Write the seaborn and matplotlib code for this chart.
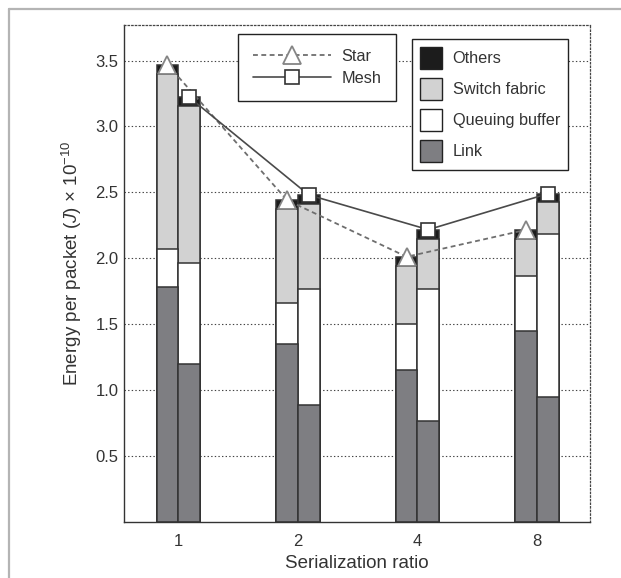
import matplotlib
matplotlib.use("Agg")
import numpy as np
import pandas as pd
import matplotlib.pyplot as plt
import seaborn as sns
from matplotlib.lines import Line2D
from matplotlib.patches import Patch

# ---------------- data ----------------
ratios = ["1", "2", "4", "8"]
topologies = ["Star", "Mesh"]
components = ["Others", "Switch fabric", "Queuing buffer", "Link"]

star_link = [1.78, 1.35, 1.15, 1.445]
star_queue = [0.29, 0.31, 0.35, 0.42]
star_switch = [1.33, 0.71, 0.44, 0.28]
star_others = [0.07, 0.07, 0.07, 0.07]

mesh_link = [1.195, 0.888, 0.766, 0.949]
mesh_queue = [0.767, 0.879, 0.998, 1.236]
mesh_switch = [1.19, 0.643, 0.382, 0.238]
mesh_others = [0.07, 0.07, 0.07, 0.066]

y_ticks = [0.5, 1.0, 1.5, 2.0, 2.5, 3.0, 3.5]

# ---------------- style ----------------
sns.set_style("white")
plt.rcParams["font.family"] = ["Liberation Sans", "DejaVu Sans"]
plt.rcParams["mathtext.fontset"] = "custom"
plt.rcParams["mathtext.rm"] = "Liberation Sans"
plt.rcParams["mathtext.it"] = "Liberation Sans:italic"
plt.rcParams["lines.scale_dashes"] = False

comp_colors = {
    "Others": "#1c1c1c",
    "Switch fabric": "#d2d2d2",
    "Queuing buffer": "#ffffff",
    "Link": "#7e7e82",
}
edge = "#333333"

rows = []
for i, r in enumerate(ratios):
    rows.append(dict(ratio=r, topology="Star", Link=star_link[i], Queue=star_queue[i],
                     Switch=star_switch[i], Others=star_others[i]))
    rows.append(dict(ratio=r, topology="Mesh", Link=mesh_link[i], Queue=mesh_queue[i],
                     Switch=mesh_switch[i], Others=mesh_others[i]))
df = pd.DataFrame(rows)
df["c1"] = df["Link"]
df["c2"] = df["c1"] + df["Queue"]
df["c3"] = df["c2"] + df["Switch"]
df["total"] = df["c3"] + df["Others"]

W, H = 621, 578
fig = plt.figure(figsize=(W / 100, H / 100), dpi=100)
ax = fig.add_axes([124 / W, 1 - 521.5 / H, (590 - 124) / W, (521.5 - 25) / H])

group_w = 0.362
for col, comp in [("total", "Others"), ("c3", "Switch fabric"),
                  ("c2", "Queuing buffer"), ("c1", "Link")]:
    c = comp_colors[comp]
    sns.barplot(data=df, x="ratio", y=col, hue="topology", order=ratios,
                hue_order=topologies, palette=[c, c], width=group_w, gap=0,
                dodge=True, saturation=1, edgecolor=edge, linewidth=1.1,
                errorbar=None, legend=False, ax=ax, zorder=2)

sns.pointplot(data=df, x="ratio", y="total", hue="topology", order=ratios,
              hue_order=topologies, dodge=group_w / 2, markers=["^", "s"],
              linestyles=["--", "-"], palette=["#6e6e6e", "#4a4a4a"],
              errorbar=None, legend=False, ax=ax)

for ln in ax.lines:
    m = ln.get_marker()
    ln.set_zorder(6)
    ln.set_markerfacecolor("white")
    if m == "^":
        ln.set_color("#6e6e6e")
        ln.set_linewidth(1.3)
        ln.set_dashes([3.5, 2.5])
        ln.set_markeredgecolor("#858585")
        ln.set_markersize(12.5)
        ln.set_markeredgewidth(1.3)
    else:
        ln.set_color("#4a4a4a")
        ln.set_linewidth(1.2)
        ln.set_markeredgecolor("#333333")
        ln.set_markersize(10)
        ln.set_markeredgewidth(1.2)
    ln.set_markerfacecolor("white")

ax.set_xlim(-0.454, 3.443)
ax.set_ylim(0, 3.77)
ax.set_yticks(y_ticks)
ax.set_yticklabels([f"{v:.1f}" for v in y_ticks])
ax.set_axisbelow(True)
ax.yaxis.grid(True, linestyle=(0, (1, 1.6)), color="#444444", linewidth=0.8)
ax.xaxis.grid(False)

ax.tick_params(axis="y", direction="in", length=4, pad=4, labelsize=12, colors="#333333")
ax.tick_params(axis="x", length=0, pad=9, labelsize=12, colors="#333333")
for s in ["left", "bottom"]:
    ax.spines[s].set_color("#333333")
    ax.spines[s].set_linewidth(1.0)
for s in ["top", "right"]:
    ax.spines[s].set_color("#444444")
    ax.spines[s].set_linewidth(0.9)
    ax.spines[s].set_linestyle((0, (1, 1.6)))

ax.set_xlabel("Serialization ratio", fontsize=13.5, color="#333333", labelpad=4)
ax.set_ylabel(r"Energy per packet ($J$) $\times$ 10$^{-10}$", fontsize=13.5,
              color="#333333", labelpad=8)
ax.yaxis.label.set_y(0.519)

# legends
line_handles = [
    Line2D([], [], color="#6e6e6e", lw=1.3, ls=(0, (3.5, 2.5)), marker="^", ms=12.5,
           mfc="white", mec="#858585", mew=1.3),
    Line2D([], [], color="#4a4a4a", lw=1.2, ls="-", marker="s", ms=10,
           mfc="white", mec="#333333", mew=1.2),
]
leg1 = fig.legend(line_handles, topologies, loc="upper left",
                  bbox_to_anchor=(238 / W, 1 - 34 / H), fontsize=11.7,
                  handlelength=4.85, handletextpad=0.6, labelspacing=0.45,
                  borderpad=0.9, borderaxespad=0, fancybox=False, framealpha=1,
                  edgecolor="#222222", numpoints=1)
leg1.get_frame().set_linewidth(1.0)
for t in leg1.get_texts():
    t.set_color("#333333")

patch_handles = [Patch(facecolor=comp_colors[c], edgecolor="#222222", linewidth=1.0)
                 for c in components]
leg2 = fig.legend(patch_handles, components, loc="upper left",
                  bbox_to_anchor=(411.7 / W, 1 - 39 / H), fontsize=11.7,
                  handlelength=1.35, handleheight=1.7, handletextpad=0.67,
                  labelspacing=0.55, borderpad=0.5, borderaxespad=0,
                  fancybox=False, framealpha=1, edgecolor="#222222")
leg2.get_frame().set_linewidth(1.0)
for t in leg2.get_texts():
    t.set_color("#333333")

# outer light frame (top and left visible)
fig.add_artist(Line2D([9 / W, 1], [1 - 9 / H, 1 - 9 / H], transform=fig.transFigure,
                      color="#b4b4b4", lw=1.6))
fig.add_artist(Line2D([9 / W, 9 / W], [0, 1 - 9 / H], transform=fig.transFigure,
                      color="#b4b4b4", lw=1.6))

fig.savefig("out.png", dpi=100)
